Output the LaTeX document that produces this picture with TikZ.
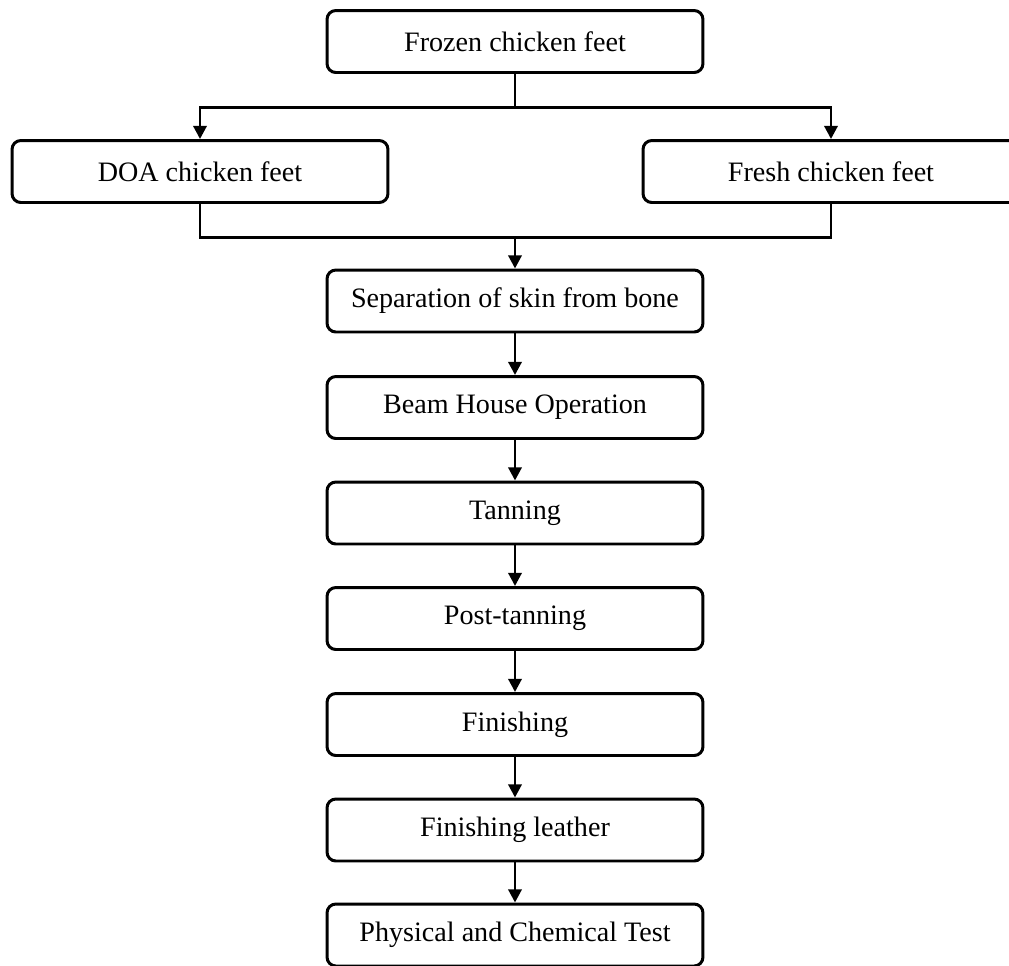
\documentclass[tikz,border=0pt]{standalone}
\usepackage{fontspec}
\setmainfont{Liberation Serif}
\usetikzlibrary{arrows.meta}
\tikzset{
    step-box/.style = {draw=black, fill=white, line width=1.7pt, rectangle, rounded corners=5pt, minimum width=7.52cm, minimum height=1.24cm, font=\fontsize{16}{19}\selectfont},
    flow-line/.style = {draw=black, line width=1.7pt},
    flow-arrow/.style = {flow-line, -{Triangle[width=7.5pt,length=7.5pt]}},
}
\begin{document}
\begin{tikzpicture}[x=0.02cm, y=-0.02cm]
\useasboundingbox (0,0) rectangle (1009,965);
\clip (0,0) rectangle (1009,965);
\node [step-box] (frozen) at (515,41.5) {Frozen chicken feet};
\node [step-box] (doa) at (200,171.5) {DOA chicken feet};
\node [step-box] (fresh) at (831,171.5) {Fresh chicken feet};
\node [step-box] (sep) at (515,301) {Separation of skin from bone};
\node [step-box] (beam) at (515,407.5) {Beam House Operation};
\node [step-box] (tan) at (515,513) {Tanning};
\node [step-box] (post) at (515,618.5) {Post-tanning};
\node [step-box] (fin) at (515,724.5) {Finishing};
\node [step-box] (leather) at (515,830) {Finishing leather};
\node [step-box] (test) at (515,935) {Physical and Chemical Test};
\coordinate (split) at (515,107);
\coordinate (merge) at (515,237);
\draw [flow-line] (frozen.south) -- (split);
\draw [flow-arrow] (split) -| (doa.north);
\draw [flow-arrow] (split) -| (fresh.north);
\draw [flow-line] (doa.south) |- (merge) -| (fresh.south);
\draw [flow-arrow] (merge) -- (sep);
\draw [flow-arrow] (sep) -- (beam);
\draw [flow-arrow] (beam) -- (tan);
\draw [flow-arrow] (tan) -- (post);
\draw [flow-arrow] (post) -- (fin);
\draw [flow-arrow] (fin) -- (leather);
\draw [flow-arrow] (leather) -- (test);
\end{tikzpicture}
\end{document}
